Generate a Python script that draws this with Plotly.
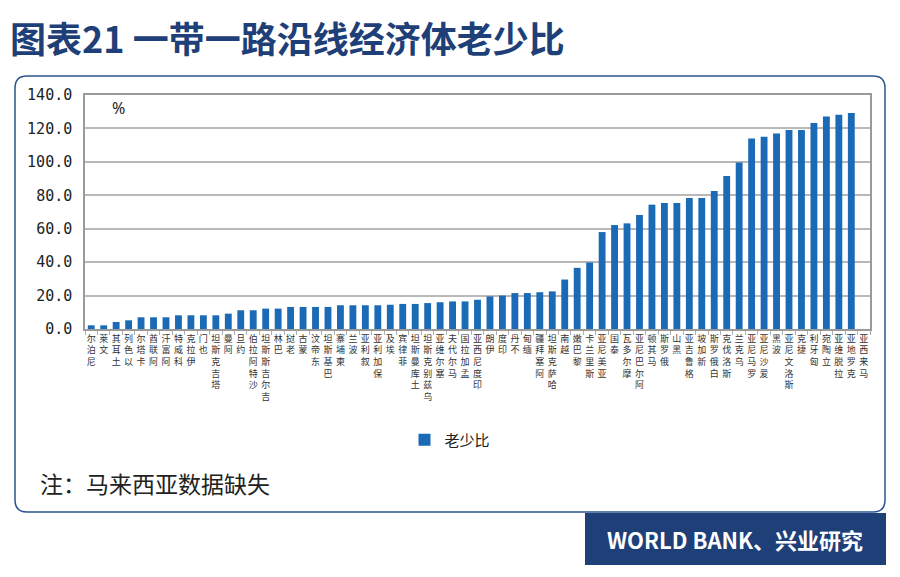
import plotly.graph_objects as go

categories = ["尼泊尔", "文莱", "土耳其", "以色列", "卡塔尔", "阿联酋", "阿富汗", "科威特", "伊拉克", "也门",
              "塔吉克斯坦", "阿曼", "约旦", "沙特阿拉伯", "吉尔吉斯斯坦", "巴林", "老挝", "蒙古", "东帝汶", "巴基斯坦",
              "柬埔寨", "波兰", "叙利亚", "保加利亚", "埃及", "菲律宾", "土库曼斯坦", "乌兹别克斯坦", "塞尔维亚", "马尔代夫",
              "孟加拉国", "印度尼西亚", "伊朗", "印度", "不丹", "缅甸", "阿塞拜疆", "哈萨克斯坦", "越南", "黎巴嫩",
              "斯里兰卡", "亚美尼亚", "泰国", "摩尔多瓦", "阿尔巴尼亚", "马其顿", "俄罗斯", "黑山", "格鲁吉亚", "新加坡",
              "白俄罗斯", "斯洛伐克", "乌克兰", "罗马尼亚", "爱沙尼亚", "波黑", "斯洛文尼亚", "捷克", "匈牙利", "立陶宛",
              "拉脱维亚", "克罗地亚", "马来西亚"]

values = [2.2, 2.2, 4.2, 5.2, 7.0, 7.0, 7.0, 8.2, 8.2, 8.2,
          8.2, 9.2, 11.2, 11.2, 12.2, 12.2, 13.2, 13.2, 13.2, 13.2,
          14.2, 14.2, 14.2, 14.2, 14.5, 15.0, 15.0, 15.5, 16.0, 16.5,
          16.5, 17.5, 19.5, 20.0, 21.5, 21.5, 22.0, 22.5, 29.6, 36.6,
          39.8, 58.0, 62.2, 63.2, 68.2, 74.4, 75.4, 75.4, 78.4, 78.4,
          82.6, 91.6, 99.6, 114.0, 115.0, 117.0, 119.0, 119.0, 123.2, 127.2,
          128.2, 129.2, None]

series_name = "老少比"
y_ticks = [0, 20, 40, 60, 80, 100, 120, 140]

# vertical stacked labels, read bottom-to-top as in the reference
tick_text = ["<br>".join(reversed(list(c))) for c in categories]

NAVY = "#1F3F78"
BAR = "#1B6AB5"

W, H = 900, 577
L, R, T, B = 85, 30, 95, 248
PW, PH = W - L - R, H - T - B


def px(x):
    return (x - L) / PW


def py(y):
    return (H - B - y) / PH


fig = go.Figure()
fig.add_trace(go.Bar(x=categories, y=values, name=series_name, marker_color=BAR,
                     marker_line_width=0, showlegend=True))

fig.update_layout(
    width=W, height=H,
    margin=dict(l=L, r=R, t=T, b=B),
    paper_bgcolor="white", plot_bgcolor="white",
    bargap=0.45,
    font=dict(family="Noto Sans CJK SC", color="#222"),
    showlegend=True,
    legend=dict(orientation="h", x=px(450), xanchor="center", y=py(440), yanchor="middle",
                font=dict(size=15, color="#222", family="Noto Sans CJK SC"),
                itemwidth=30),
    title=dict(text="图表21 一带一路沿线经济体老少比", xref="container", yref="container",
               x=10 / W, xanchor="left", y=1 - 40 / H, yanchor="middle",
               font=dict(size=36, color=NAVY, family="Noto Sans CJK SC", weight="bold")),
)

fig.update_xaxes(
    type="category", tickmode="array", tickvals=categories, ticktext=tick_text,
    tickangle=0, tickfont=dict(size=9, color="#333", family="Noto Sans CJK SC"),
    showline=True, linecolor="#9a9a9a", linewidth=1.5, mirror=True,
    ticks="outside", tickson="boundaries", ticklen=4, tickcolor="#b0b0b0",
    showgrid=False, range=[-0.5, len(categories) - 0.5],
)
fig.update_yaxes(
    range=[0, 140], tickmode="array", tickvals=y_ticks, tickformat=".1f",
    tickfont=dict(size=15, color="#222", family="DejaVu Sans Mono"),
    ticklabelstandoff=8,
    showgrid=True, gridcolor="#b8b8b8", gridwidth=1.5,
    showline=True, linecolor="#9a9a9a", linewidth=1.5, mirror=True,
    ticks="", zeroline=False,
)

# rounded panel
x0, x1, y0, y1, r = 15, 885, 76, 512, 12
rx, ry = r / PW, r / PH
path = (f"M {px(x0)+rx} {py(y0)} L {px(x1)-rx} {py(y0)} Q {px(x1)} {py(y0)} {px(x1)} {py(y0)-ry} "
        f"L {px(x1)} {py(y1)+ry} Q {px(x1)} {py(y1)} {px(x1)-rx} {py(y1)} "
        f"L {px(x0)+rx} {py(y1)} Q {px(x0)} {py(y1)} {px(x0)} {py(y1)+ry} "
        f"L {px(x0)} {py(y0)-ry} Q {px(x0)} {py(y0)} {px(x0)+rx} {py(y0)} Z")
fig.add_shape(type="path", path=path, xref="paper", yref="paper",
              line=dict(color="#2B5590", width=1.5), fillcolor="rgba(0,0,0,0)", layer="below")

# source box
fig.add_shape(type="rect", xref="paper", yref="paper",
              x0=px(585), x1=px(886), y0=py(565), y1=py(513),
              fillcolor=NAVY, line=dict(width=0), layer="above")
fig.add_annotation(text="WORLD BANK、兴业研究", xref="paper", yref="paper",
                   x=px(735), y=py(539), xanchor="center", yanchor="middle", showarrow=False,
                   font=dict(size=22, color="white", family="Noto Sans CJK SC", weight="bold"))

fig.add_annotation(text="%", xref="paper", yref="paper", x=px(118), y=py(108),
                   xanchor="center", yanchor="middle", showarrow=False,
                   font=dict(size=16, color="#222", family="Noto Sans"))
fig.add_annotation(text="注：马来西亚数据缺失", xref="paper", yref="paper", x=px(38), y=py(483),
                   xanchor="left", yanchor="middle", showarrow=False,
                   font=dict(size=23, color="#222", family="Noto Sans CJK SC"))

fig.write_html("out.html")
